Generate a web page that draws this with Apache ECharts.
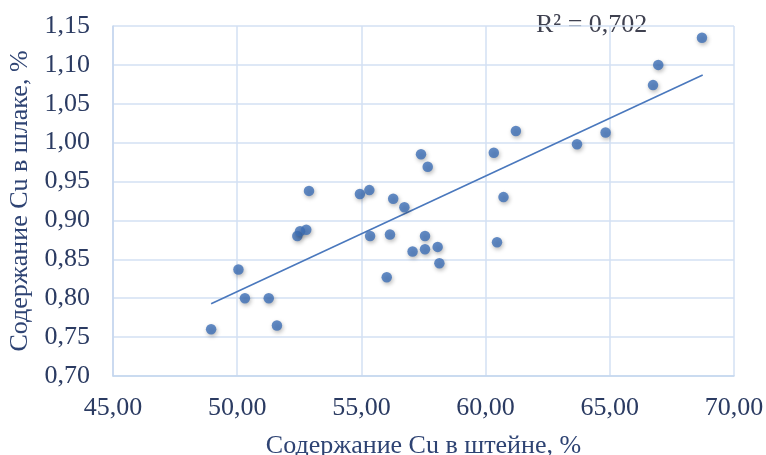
<!DOCTYPE html>
<html>
<head>
<meta charset="utf-8">
<script src="https://cdn.jsdelivr.net/npm/echarts@6/dist/echarts.min.js"></script>
<style>html,body{margin:0;padding:0;background:#fff}#c{width:766px;height:455px}</style>
</head>
<body>
<div id="c"></div>
<script>
const cuMatte = [48.95, 50.05, 50.31, 51.27, 51.60, 52.42, 52.53, 52.78, 52.89, 54.94, 55.32, 55.35, 56.02, 56.15, 56.28, 56.73, 57.06, 57.40, 57.56, 57.56, 57.67, 58.07, 58.14, 60.33, 60.46, 60.72, 61.22, 63.68, 64.83, 66.74, 66.95, 68.71];
const cuSlag  = [0.760, 0.837, 0.800, 0.800, 0.765, 0.880, 0.886, 0.888, 0.938, 0.934, 0.939, 0.880, 0.827, 0.882, 0.928, 0.917, 0.860, 0.985, 0.880, 0.863, 0.969, 0.866, 0.845, 0.987, 0.872, 0.930, 1.015, 0.998, 1.013, 1.074, 1.100, 1.135];
const trendX = [48.95, 68.74];
const trendY = [0.793, 1.087];
const xTitle = 'Содержание Cu в штейне, %';
const yTitle = 'Содержание Cu в шлаке, %';
const r2Label = 'R² = 0,702';

const serif = '"Liberation Serif", "DejaVu Serif", serif';
const chart = echarts.init(document.getElementById('c'), null, {renderer: 'canvas'});
const grid = '#d3e1f3';
chart.setOption({
  animation: false,
  backgroundColor: '#fff',
  grid: {left: 113, right: 32, top: 26, bottom: 79, containLabel: false, outerBoundsMode: 'none'},
  xAxis: {
    type: 'value', min: 45, max: 70, interval: 5,
    name: xTitle, nameLocation: 'middle', nameGap: 57, nameMoveOverlap: false,
    nameTextStyle: {fontFamily: serif, fontSize: 26, color: '#2e4373'},
    axisLine: {show: true, lineStyle: {color: '#c4d6ee', width: 1.5}},
    axisTick: {show: false},
    splitLine: {show: true, lineStyle: {color: grid, width: 1.5}},
    axisLabel: {fontFamily: serif, fontSize: 26, color: '#2b3b62', margin: 19,
      formatter: v => v.toFixed(2).replace('.', ',')}
  },
  yAxis: {
    type: 'value', min: 0.70, max: 1.15, interval: 0.05,
    name: yTitle, nameLocation: 'middle', nameGap: 80,
    nameTextStyle: {fontFamily: serif, fontSize: 26, color: '#2e4373'},
    axisLine: {show: true, lineStyle: {color: '#c4d6ee', width: 1.5}},
    axisTick: {show: false},
    splitLine: {show: true, lineStyle: {color: grid, width: 1.5}},
    axisLabel: {fontFamily: serif, fontSize: 26, color: '#2b3b62', margin: 23,
      formatter: v => v.toFixed(2).replace('.', ',')}
  },
  series: [
    {
      type: 'line', data: trendX.map((x, i) => [x, trendY[i]]),
      showSymbol: false, symbol: 'none',
      lineStyle: {color: '#4a78bd', width: 1.6}, z: 2
    },
    {
      type: 'scatter', data: cuMatte.map((x, i) => [x, cuSlag[i]]),
      symbolSize: 10.5,
      itemStyle: {color: '#3d6fb6', shadowBlur: 4, shadowOffsetX: 1, shadowOffsetY: 2, shadowColor: 'rgba(0,0,0,0.35)'},
      z: 3
    }
  ],
  graphic: [{
    type: 'text', left: 536, top: 12,
    style: {text: r2Label, font: '26px ' + serif, fill: '#3f4150'}
  }]
});
</script>
</body>
</html>
